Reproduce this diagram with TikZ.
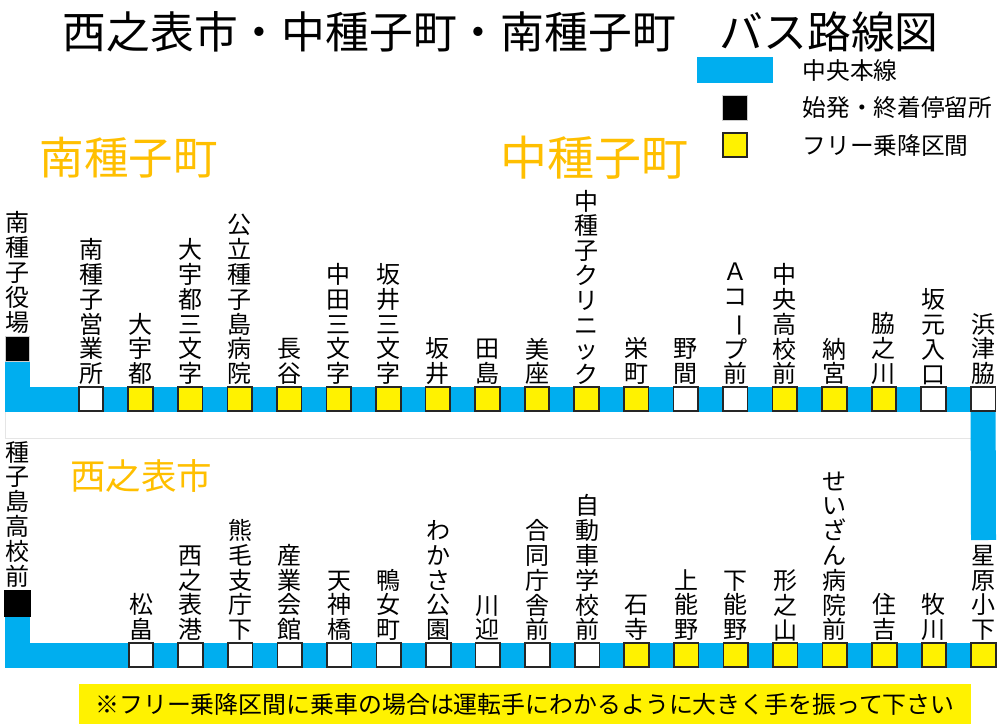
\documentclass[tikz,border=0pt]{standalone}
\usepackage{fontspec}
\setmainfont{Noto Sans CJK JP}
\usepackage{tikz}
\usetikzlibrary{backgrounds,positioning}
\definecolor{routeblue}{HTML}{00AEEF}
\definecolor{townorange}{HTML}{FFBF00}
\newcommand{\tatebo}{\rotatebox[origin=c]{-90}{ー}}
\tikzset{
  stopbox/.style={draw=black!85,line width=1.7pt,minimum size=24.6pt,inner sep=0pt,fill=#1},
  endbox/.style={fill=black,minimum size=#1,inner sep=0pt},
  stoplabel/.style={align=center,inner sep=0pt,font=\fontsize{24}{24.8}\selectfont},
  legendtext/.style={anchor=west,inner sep=0pt,font=\fontsize{23.7}{26}\selectfont},
  routeline/.style={routeblue,line width=25pt,line join=miter},
  townname/.style={townorange,inner sep=0pt}
}
\begin{document}
\begin{tikzpicture}[x=1pt,y=-1pt]
\useasboundingbox (0,0) rectangle (1000,724);
% title
\node[anchor=west,inner sep=0pt,font=\fontsize{43.8}{46}\selectfont] (title) at (62.5,32)
  {西之表市・中種子町・南種子町　バス路線図};
% legend
\node[fill=routeblue,minimum width=76pt,minimum height=26pt,inner sep=0pt] (legline) at (735,70) {};
\node[endbox=24.5pt,draw=black!20,line width=1pt] (legend) at (735,108) {};
\node[stopbox=yellow] (legfree) at (735,145) {};
\node[legendtext] (legtxtA) at (802.5,70) {中央本線};
\node[legendtext] (legtxtB) at (802.5,108) {始発・終着停留所};
\node[legendtext] (legtxtC) at (802.5,145) {フリー乗降区間};
% towns
\node[townname,font=\fontsize{44.5}{46}\selectfont] (minamitane) at (128.5,158) {南種子町};
\node[townname,font=\fontsize{47}{49}\selectfont] (nakatane) at (594,158) {中種子町};
\node[townname,font=\fontsize{35.5}{38}\selectfont] (nishino) at (141,476) {西之表市};
% upper row
\foreach \lab/\col [count=\i] in {
  南\\種\\子\\営\\業\\所/white,
  大\\宇\\都/yellow,
  大\\宇\\都\\三\\文\\字/yellow,
  公\\立\\種\\子\\島\\病\\院/yellow,
  長\\谷/yellow,
  中\\田\\三\\文\\字/yellow,
  坂\\井\\三\\文\\字/yellow,
  坂\\井/yellow,
  田\\島/yellow,
  美\\座/yellow,
  中\\種\\子\\ク\\リ\\ニ\\ッ\\ク/yellow,
  栄\\町/yellow,
  野\\間/white,
  Ａ\\コ\\\tatebo\\プ\\前/white,
  中\\央\\高\\校\\前/yellow,
  納\\宮/yellow,
  脇\\之\\川/yellow,
  坂\\元\\入\\口/white,
  浜\\津\\脇/white}
{
  \node[stopbox=\col] (top\i) at ({91+49.56*(\i-1)},399) {};
  \node[stoplabel,above=1pt of top\i] (toplab\i) {\lab};
}
% lower row
\foreach \lab/\col [count=\i] in {
  松\\畠/white,
  西\\之\\表\\港/white,
  熊\\毛\\支\\庁\\下/white,
  産\\業\\会\\館/white,
  天\\神\\橋/white,
  鴨\\女\\町/white,
  わ\\か\\さ\\公\\園/white,
  川\\迎/white,
  合\\同\\庁\\舎\\前/white,
  自\\動\\車\\学\\校\\前/white,
  石\\寺/yellow,
  上\\能\\野/yellow,
  下\\能\\野/yellow,
  形\\之\\山/yellow,
  せ\\い\\ざ\\ん\\病\\院\\前/yellow,
  住\\吉/yellow,
  牧\\川/yellow,
  星\\原\\小\\下/yellow}
{
  \node[stopbox=\col] (bot\i) at ({141+49.56*(\i-1)},655) {};
  \node[stoplabel,above=1pt of bot\i] (botlab\i) {\lab};
}
% terminals
\node[endbox=24.5pt,draw=black!20,line width=1pt] (minamiend) at (17.5,349) {};
\node[stoplabel,above=3pt of minamiend] (minamilab) {南\\種\\子\\役\\場};
\node[endbox=26.5pt] (koukouend) at (17.3,603.5) {};
\node[stoplabel,above=3pt of koukouend] (koukoulab) {種\\子\\島\\高\\校\\前};
\coordinate (bandend) at (983.5,540);
% note
\node[fill=yellow,minimum width=892pt,minimum height=40pt,inner sep=0pt,font=\fontsize{23.9}{26}\selectfont] (note) at (525,704)
  {※フリー乗降区間に乗車の場合は運転手にわかるように大きく手を振って下さい};
% route
\begin{scope}[on background layer]
\draw[black!10,line width=0.8pt] (5,412) |- (971,438);
\draw[routeline] (minamiend.center) |- (top19.center);
\draw[routeline] (top19.center) -- (bandend);
\draw[routeline] (koukouend.center) |- (bot18.center);
\end{scope}
\end{tikzpicture}
\end{document}
